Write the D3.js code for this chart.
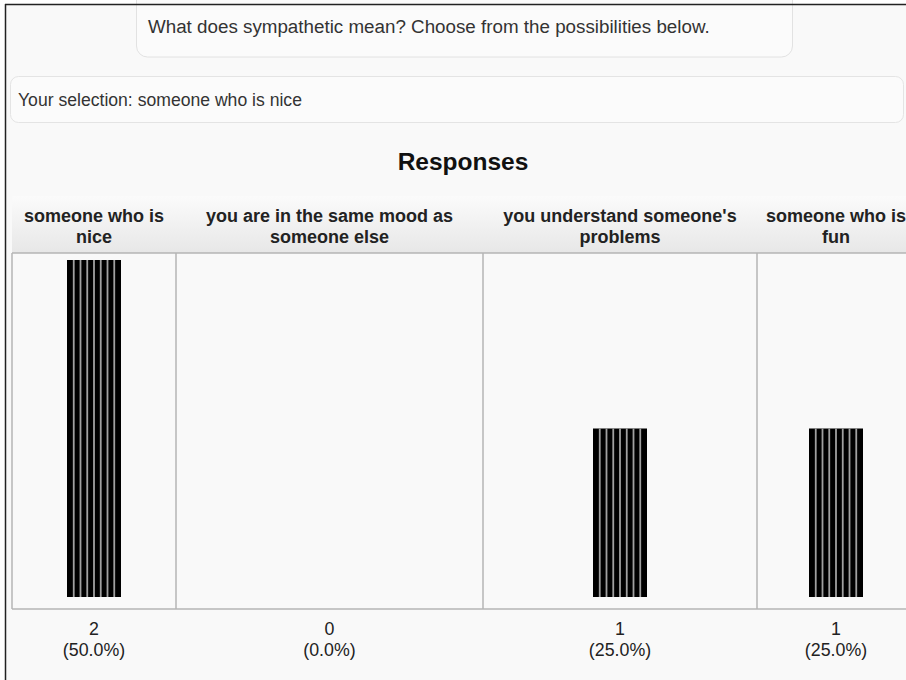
<!DOCTYPE html>
<html>
<head>
<meta charset="utf-8">
<script src="https://cdn.jsdelivr.net/npm/d3@7"></script>
<style>
  html, body { margin: 0; padding: 0; background: #fff; }
  svg { display: block; font-family: "Liberation Sans", Arial, Helvetica, sans-serif; }
</style>
</head>
<body>
<div id="chart"></div>
<script>
const question = "What does sympathetic mean? Choose from the possibilities below.";
const selection = "Your selection: someone who is nice";
const title = "Responses";
const categories = ["someone who is nice", "you are in the same mood as someone else",
    "you understand someone's problems", "someone who is fun"];
const headerLines = [["someone who is", "nice"], ["you are in the same mood as", "someone else"],
    ["you understand someone's", "problems"], ["someone who is", "fun"]];
const counts = [2, 0, 1, 1];

let width = 906, height = 680;
// table column edges (layout of the html table)
const colEdges = [12, 176, 483, 757, 915];

const total = d3.sum(counts);

let svg = d3.select("#chart")
    .append("svg")
    .attr("width", width)
    .attr("height", height);

const defs = svg.append("defs");
const grad = defs.append("linearGradient")
    .attr("id", "head")
    .attr("x1", 0).attr("y1", 0).attr("x2", 0).attr("y2", 1);
grad.append("stop").attr("offset", "0%").attr("stop-color", "#fbfbfb");
grad.append("stop").attr("offset", "100%").attr("stop-color", "#e7e7e7");

// page background + frame
svg.append("rect").attr("x", 5).attr("y", 4).attr("width", width).attr("height", height)
    .attr("fill", "#f9f9f9");

// question box
svg.append("rect")
    .attr("x", 136.5).attr("y", -20).attr("width", 656).attr("height", 77)
    .attr("rx", 11)
    .attr("fill", "#fbfbfb").attr("stroke", "#e2e2e2");
svg.append("text")
    .attr("x", 148).attr("y", 33)
    .attr("font-size", 18.8).attr("fill", "#333")
    .text(question);

// selection box
svg.append("rect")
    .attr("x", 10.5).attr("y", 76.5).attr("width", 893).attr("height", 46)
    .attr("rx", 8)
    .attr("fill", "#fbfbfb").attr("stroke", "#e4e4e4");
svg.append("text")
    .attr("x", 18).attr("y", 106)
    .attr("font-size", 17.6).attr("fill", "#333")
    .text(selection);

// frame lines
svg.append("line").attr("x1", 5).attr("x2", width).attr("y1", 4.5).attr("y2", 4.5)
    .attr("stroke", "#222").attr("stroke-width", 1.5);
svg.append("line").attr("x1", 5.5).attr("x2", 5.5).attr("y1", 4).attr("y2", height)
    .attr("stroke", "#222").attr("stroke-width", 1.5);

// title
svg.append("text")
    .attr("x", 463).attr("y", 170)
    .attr("text-anchor", "middle")
    .attr("font-size", 24.5).attr("font-weight", "bold").attr("fill", "#111")
    .text(title);

// scales
const xLeft = d3.scaleOrdinal().domain(categories).range(colEdges.slice(0, -1));
const xRight = d3.scaleOrdinal().domain(categories).range(colEdges.slice(1));
const xMid = d => (xLeft(d) + xRight(d)) / 2;

const y = d3.scaleLinear()
    .domain([0, d3.max(counts)])
    .range([597, 260]);

const headTop = 196, headBottom = 253, plotBottom = 609;

// header row
svg.append("rect")
    .attr("x", colEdges[0]).attr("y", headTop)
    .attr("width", width - colEdges[0]).attr("height", headBottom - headTop)
    .attr("fill", "url(#head)");

const head = svg.selectAll(".head")
    .data(categories)
    .enter()
    .append("text")
    .attr("class", "head")
    .attr("text-anchor", "middle")
    .attr("font-size", 18).attr("font-weight", "bold").attr("fill", "#222");
head.selectAll("tspan")
    .data((d, i) => headerLines[i].map(t => ({t: t, c: d})))
    .enter()
    .append("tspan")
    .attr("x", d => xMid(d.c))
    .attr("y", (d, i) => 222 + i * 21)
    .text(d => d.t);

// plot cell
svg.append("rect")
    .attr("x", colEdges[0]).attr("y", headBottom)
    .attr("width", width - colEdges[0]).attr("height", plotBottom - headBottom)
    .attr("fill", "#f9f9f9");

// grid lines
svg.append("line").attr("x1", colEdges[0]).attr("x2", width).attr("y1", headBottom).attr("y2", headBottom)
    .attr("stroke", "#b4b4b4").attr("stroke-width", 1.5);
svg.append("line").attr("x1", colEdges[0]).attr("x2", width).attr("y1", plotBottom).attr("y2", plotBottom)
    .attr("stroke", "#b4b4b4").attr("stroke-width", 1.5);
svg.selectAll(".vline")
    .data(categories)
    .enter()
    .append("line")
    .attr("class", "vline")
    .attr("x1", d => xLeft(d)).attr("x2", d => xLeft(d))
    .attr("y1", headBottom).attr("y2", plotBottom)
    .attr("stroke", "#b4b4b4").attr("stroke-width", 1.5);

// bars
const barW = 54;
const bars = svg.selectAll(".bar")
    .data(categories.map((c, i) => ({c: c, v: counts[i]})).filter(d => d.v > 0))
    .enter()
    .append("g")
    .attr("class", "bar");
bars.append("rect")
    .attr("x", d => xMid(d.c) - barW / 2)
    .attr("y", d => y(d.v))
    .attr("width", barW)
    .attr("height", d => y(0) - y(d.v))
    .attr("fill", "#000");
bars.selectAll("line")
    .data(d => d3.range(1, 8).map(k => ({d: d, k: k})))
    .enter()
    .append("line")
    .attr("x1", s => xMid(s.d.c) - barW / 2 + s.k * barW / 8)
    .attr("x2", s => xMid(s.d.c) - barW / 2 + s.k * barW / 8)
    .attr("y1", s => y(s.d.v))
    .attr("y2", y(0))
    .attr("stroke", "#a0a0a0").attr("stroke-width", 1.8);

// count labels
const lab = svg.selectAll(".lab")
    .data(categories)
    .enter()
    .append("text")
    .attr("class", "lab")
    .attr("text-anchor", "middle")
    .attr("font-size", 17.8).attr("fill", "#222");
lab.append("tspan")
    .attr("x", d => xMid(d)).attr("y", 635)
    .text((d, i) => counts[i]);
lab.append("tspan")
    .attr("x", d => xMid(d)).attr("y", 656)
    .text((d, i) => "(" + (counts[i] / total * 100).toFixed(1) + "%)");
</script>
</body>
</html>
